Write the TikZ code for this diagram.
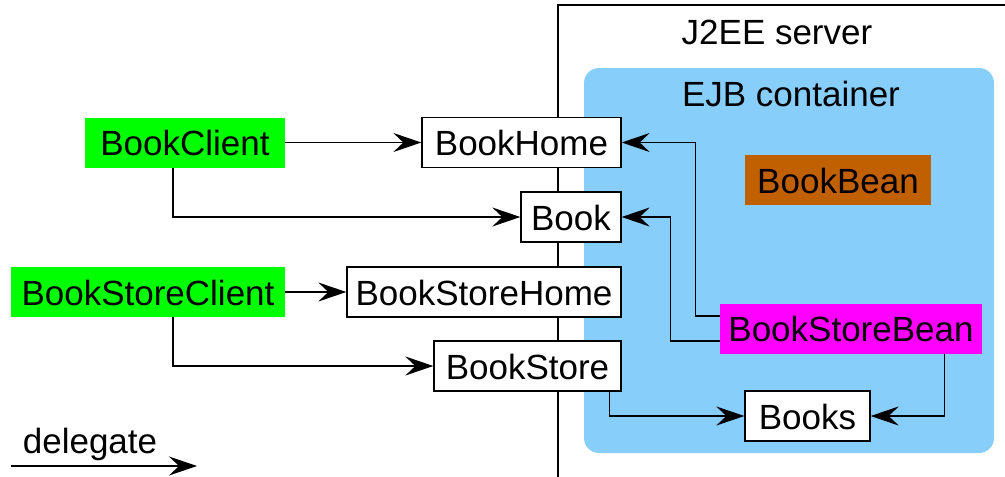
\documentclass[tikz,border=0pt]{standalone}
\usepackage{fontspec}
\setmainfont{Liberation Sans}
\usetikzlibrary{arrows.meta}
\definecolor{clientgreen}{RGB}{0,255,0}
\definecolor{beanmagenta}{RGB}{255,0,255}
\definecolor{beanbrown}{RGB}{192,96,0}
\definecolor{ejbblue}{RGB}{135,206,250}
\begin{document}
\begin{tikzpicture}[x=1pt,y=-1pt,
  font=\fontsize{35}{40}\selectfont,
  every node/.style={inner sep=0pt, text height=26pt, text depth=0pt, align=center},
  ifbox/.style={draw=black, line width=1.3pt, fill=white, minimum height=50pt},
  client/.style={fill=clientgreen, minimum height=50pt},
  bean/.style={minimum height=50pt},
  title/.style={anchor=base, text height=, text depth=},
  link/.style={draw=black, line width=1.3pt, -{Stealth[length=28pt,width=19pt,inset=10pt]}},
  rule/.style={draw=black, line width=1.2pt}
]
\useasboundingbox (0,0) rectangle (1005,477);

% J2EE server frame (left and top edges only)
\coordinate (srvBL) at (558,477);
\coordinate (srvTL) at (558,5);
\coordinate (srvTR) at (1005,5);
\draw[rule] (srvBL) -- (srvTL) -- (srvTR);
\node[title] (srv) at (777,44) {J2EE server};

% EJB container
\fill[ejbblue, rounded corners=15pt] (584,68) rectangle (994,453);
\node[title] (ejb) at (791,106) {EJB container};

% clients
\node[client, minimum width=200pt] (bc) at (185,142.5) {BookClient};
\node[client, minimum width=274pt] (bsc) at (148,292) {BookStoreClient};

% interfaces
\node[ifbox, minimum width=199pt] (bh) at (521.5,142.5) {BookHome};
\node[ifbox, minimum width=100pt] (book) at (571,217) {Book};
\node[ifbox, minimum width=274pt] (bsh) at (484,292) {BookStoreHome};
\node[ifbox, minimum width=187pt] (bs) at (527.5,366) {BookStore};
\node[ifbox, minimum width=125pt] (books) at (807.5,416) {Books};

% beans
\node[bean, fill=beanbrown, minimum width=186pt] (bb) at (838,180) {BookBean};
\node[bean, fill=beanmagenta, minimum width=262pt] (bsb) at (851,328.5) {BookStoreBean};

% delegation links
\draw[link] (bc.east) -- (bh.west);
\draw[link] ([xshift=-12pt]bc.south) |- (book.west);
\draw[link] (bsc.east) -- (bsh.west);
\draw[link] ([xshift=25pt]bsc.south) |- (bs.west);
\draw[link] ([yshift=12.5pt]bsb.west) -- ++(-24,0) |- (bh.east);
\draw[link] ([yshift=-12.5pt]bsb.west) -- ++(-49,0) |- (book.east);
\draw[link] ([xshift=-12pt]bs.south east) |- (books.west);
\draw[link] ([xshift=-38pt]bsb.south east) |- (books.east);

% legend
\coordinate (lgA) at (11,466);
\coordinate (lgB) at (197,466);
\draw[link] (lgA) -- (lgB);
\node[title] (lg) at (90,453) {delegate};
\end{tikzpicture}
\end{document}
